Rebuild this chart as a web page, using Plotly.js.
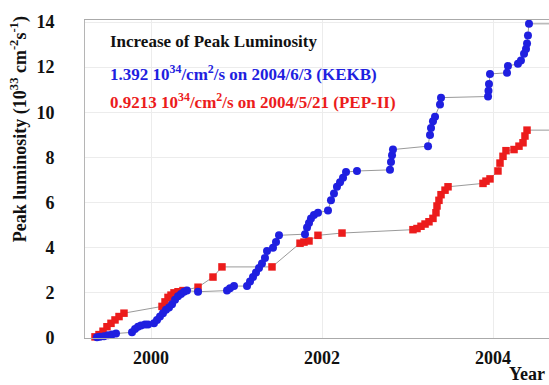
<!DOCTYPE html>
<html>
<head>
<meta charset="utf-8">
<script src="https://cdn.plot.ly/plotly-3.0.1.min.js"></script>
<style>html,body{margin:0;padding:0;background:#fff;}#chart{width:549px;height:385px;}</style>
</head>
<body>
<div id="chart"></div>
<script>
// KEKB peak luminosity (10^33 cm^-2 s^-1) vs decimal year
const kekbYear = [1999.368,1999.404,1999.450,1999.497,1999.544,1999.591,1999.778,1999.813,1999.848,1999.883,1999.930,1999.965,
  2000.035,2000.070,2000.105,2000.140,2000.175,2000.211,2000.246,2000.281,2000.316,2000.351,2000.386,2000.421,2000.550,
  2000.889,2000.924,2000.971,2001.123,2001.158,2001.193,2001.228,2001.263,2001.298,2001.333,2001.357,2001.427,2001.462,2001.497,
  2001.801,2001.825,2001.848,2001.871,2001.906,2001.953,2002.070,2002.105,2002.140,2002.175,2002.211,2002.246,2002.281,2002.409,
  2002.795,2002.807,2002.819,2002.830,2003.240,2003.263,2003.275,2003.298,2003.322,2003.380,2003.392,
  2003.942,2003.947,2003.953,2003.965,2004.164,2004.175,2004.292,2004.327,2004.363,2004.386,2004.398,2004.409,2004.421];
const kekbLum = [0.03,0.05,0.08,0.12,0.15,0.2,0.25,0.4,0.5,0.55,0.6,0.6,
  0.65,0.8,0.95,1.1,1.25,1.35,1.5,1.7,1.85,1.95,2.05,2.1,2.05,
  2.1,2.2,2.3,2.3,2.5,2.7,2.9,3.1,3.3,3.55,3.85,4.0,4.25,4.55,
  4.6,4.9,5.1,5.3,5.45,5.55,5.65,6.1,6.4,6.7,6.9,7.1,7.35,7.4,
  7.45,7.8,8.1,8.35,8.5,9.0,9.3,9.6,9.8,10.35,10.65,
  10.7,10.95,11.25,11.7,11.75,12.05,12.15,12.3,12.6,12.8,13.05,13.4,13.92];

// PEP-II peak luminosity (10^33 cm^-2 s^-1) vs decimal year
const pepYear = [1999.345,1999.392,1999.439,1999.485,1999.532,1999.579,1999.626,1999.684,
  2000.129,2000.164,2000.199,2000.234,2000.269,2000.316,2000.374,2000.550,2000.725,2000.830,2001.415,
  2001.743,2001.789,2001.848,2001.953,2002.234,
  2003.064,2003.111,2003.158,2003.205,2003.251,2003.298,2003.333,2003.345,2003.368,2003.392,2003.439,2003.474,
  2003.883,2003.918,2003.965,2004.058,2004.082,2004.117,2004.152,2004.246,2004.304,2004.351,2004.374,2004.398];
const pepLum = [0.05,0.15,0.3,0.5,0.65,0.8,0.95,1.1,
  1.4,1.6,1.8,1.9,2.0,2.05,2.1,2.25,2.7,3.15,3.15,
  4.2,4.25,4.3,4.55,4.65,
  4.8,4.85,4.95,5.05,5.15,5.3,5.55,5.85,6.1,6.35,6.55,6.7,
  6.85,6.95,7.05,7.4,7.75,8.05,8.3,8.35,8.5,8.65,8.95,9.21];

// records held to the present (line continues to right edge)
const recordHoldYear = 2004.8;

const xTicks = [2000, 2002, 2004];
const yTicks = [0, 2, 4, 6, 8, 10, 12, 14];

const blue = '#1f1fe0';
const red = '#ec1c1c';
const serif = '"Liberation Serif", "DejaVu Serif", "Times New Roman", Times, serif';

const lineStyle = {color: '#9a9a9a', width: 1};

const traces = [
  {x: pepYear.concat([recordHoldYear]), y: pepLum.concat([pepLum[pepLum.length-1]]), mode: 'lines', line: lineStyle, hoverinfo: 'skip', cliponaxis: true},
  {x: kekbYear.concat([recordHoldYear]), y: kekbLum.concat([kekbLum[kekbLum.length-1]]), mode: 'lines', line: lineStyle, hoverinfo: 'skip', cliponaxis: true},
  {x: pepYear, y: pepLum, mode: 'markers', marker: {symbol: 'square', size: 7.5, color: red}, cliponaxis: false},
  {x: kekbYear, y: kekbLum, mode: 'markers', marker: {symbol: 'circle', size: 8, color: blue}, cliponaxis: false}
];

const tickFont = {family: serif, size: 18, color: '#111', weight: 'bold'};
const ann = (text, x, y, color, extra) => Object.assign({
  text: text, x: x, y: y, xref: 'paper', yref: 'paper', showarrow: false,
  xanchor: 'left', yanchor: 'middle', font: {family: serif, size: 17, color: color, weight: 'bold'}
}, extra || {});

const layout = {
  width: 549, height: 385,
  font: {family: serif},
  margin: {l: 85, r: 0, t: 20, b: 47, pad: 0},
  paper_bgcolor: '#fff', plot_bgcolor: '#fff',
  showlegend: false,
  xaxis: {
    range: [1999.228, 2004.655], tickvals: xTicks, ticktext: xTicks.map(String),
    showgrid: true, gridcolor: '#ececec', gridwidth: 1, zeroline: false,
    showline: true, linecolor: '#aaaaaa', linewidth: 1, mirror: true,
    ticks: '', ticklabelstandoff: 3, tickfont: tickFont
  },
  yaxis: {
    range: [0, 14.09], tickvals: yTicks, ticktext: yTicks.map(String),
    showgrid: true, gridcolor: '#ececec', gridwidth: 1, zeroline: false,
    showline: true, linecolor: '#b5b5b5', linewidth: 1, mirror: true,
    ticks: '', ticklabelstandoff: 26, tickfont: tickFont
  },
  annotations: [
    ann('Increase of Peak Luminosity', 0.0496, 0.931, '#111'),
    ann('1.392 10<sup>34</sup>/cm<sup>2</sup>/s on 2004/6/3 (KEKB)', 0.0496, 0.833, blue),
    ann('0.9213 10<sup>34</sup>/cm<sup>2</sup>/s on 2004/5/21 (PEP-II)', 0.0496, 0.745, red),
    ann('Peak luminosity (10<sup>33</sup> cm<sup>-2</sup>s<sup>-1</sup>)', -0.142, 0.657, '#111',
      {xanchor: 'center', textangle: -90, font: {family: serif, size: 18, color: '#111', weight: 'bold'}}),
    ann('Year', 0.995, -0.113, '#111', {xanchor: 'right', font: {family: serif, size: 18, color: '#111', weight: 'bold'}})
  ]
};

Plotly.newPlot('chart', traces, layout, {displayModeBar: false, staticPlot: true});
</script>
</body>
</html>
